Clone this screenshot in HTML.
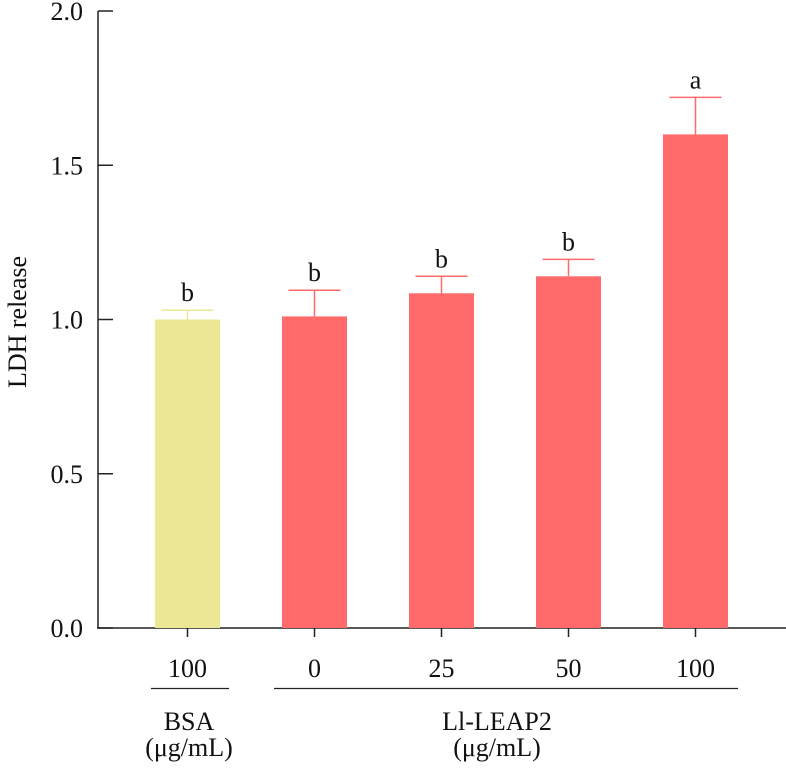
<!DOCTYPE html>
<html><head><meta charset="utf-8"><style>
body{margin:0;background:#fff;}
svg text{font-family:"Liberation Serif",serif;fill:#111;}
</style></head><body>
<svg width="786" height="769" viewBox="0 0 786 769">
<g id="axes"></g><g id="bars"></g>
</svg>
<script>
const categories=["100","0","25","50","100"];
const values=[1.0,1.01,1.085,1.14,1.60];
const errors=[0.03,0.085,0.055,0.055,0.12];
const letters=["b","b","b","b","a"];
const colors=["#ebe795","#ff6b6b","#ff6b6b","#ff6b6b","#ff6b6b"];
const yTicks=[0,0.5,1.0,1.5,2.0];
const yTickLabels=["0.0","0.5","1.0","1.5","2.0"];
const NS="http://www.w3.org/2000/svg";
const y0=628,yPer=308.5,x0=187.5,step=127,bw=65;
const yS=v=>y0-v*yPer, xS=i=>x0+i*step;
function mk(tag,attrs,parent,text){const e=document.createElementNS(NS,tag);for(const k in attrs)e.setAttribute(k,attrs[k]);if(text!==undefined)e.textContent=text;parent.appendChild(e);return e;}
const ax=document.getElementById('axes'),bg=document.getElementById('bars');
const ya=mk('line',{x1:98,y1:yS(2),x2:98,y2:y0,stroke:'#222','stroke-width':1.5},ax);


const xa=mk('line',{x1:97,y1:y0,x2:786,y2:y0,stroke:'#222','stroke-width':1.5},ax);


yTicks.forEach((t,i)=>{
 const l=mk('line',{x1:98,y1:yS(t),x2:113,y2:yS(t),stroke:'#222','stroke-width':1.5},ax);
 
 
 const tx=mk('text',{x:83,y:yS(t)+9,'text-anchor':'end','font-size':26},ax,yTickLabels[i]);
 
 
});
const yl=mk('text',{x:0,y:0,'text-anchor':'middle','font-size':26,transform:'translate(26,322) rotate(-90)'},ax,'LDH release');


values.forEach((v,i)=>{
 const cx=xS(i);
 const r=mk('rect',{x:cx-bw/2,y:yS(v),width:bw,height:y0-yS(v),fill:colors[i]},bg);
 
 
 const top=yS(v+errors[i]);
 const eb=mk('path',{d:`M${cx},${yS(v)}V${top}M${cx-26},${top}H${cx+26}`,stroke:colors[i],'stroke-width':1.5,fill:'none'},bg);
 
 
 const lt=mk('text',{x:cx,y:top-9,'text-anchor':'middle','font-size':26},bg,letters[i]);
 
 
 const tk=mk('line',{x1:cx,y1:y0,x2:cx,y2:637,stroke:'#222','stroke-width':1.5},ax);
 
 
 const cl=mk('text',{x:cx,y:677,'text-anchor':'middle','font-size':26},ax,categories[i]);
 
 
});
const u1=mk('line',{x1:151,y1:688.5,x2:229,y2:688.5,stroke:'#222','stroke-width':1.3},ax);


const u2=mk('line',{x1:274,y1:688.5,x2:738,y2:688.5,stroke:'#222','stroke-width':1.3},ax);


[[189,'BSA'],[497,'Ll-LEAP2']].forEach(([x,t])=>{
 const a=mk('text',{x:x,y:730,'text-anchor':'middle','font-size':26},ax,t);
 
 
 const b=mk('text',{x:x,y:756,'text-anchor':'middle','font-size':26},ax,'(μg/mL)');
 
 
});
</script>
</body></html>
